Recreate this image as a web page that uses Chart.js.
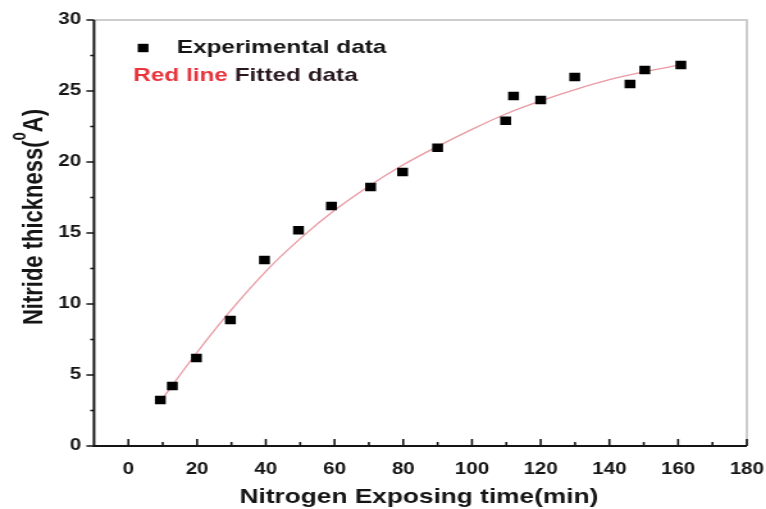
<!DOCTYPE html>
<html>
<head>
<meta charset="utf-8">
<script src="https://cdn.jsdelivr.net/npm/chart.js@4.4.1/dist/chart.umd.min.js"></script>
<style>
  html, body { margin: 0; padding: 0; background: #fff; overflow: hidden; }
  /* the chart is drawn narrow and stretched sideways, like the original figure */
  #wrap { width: 598px; height: 509px; transform: scaleX(1.281); transform-origin: 0 0; }
</style>
</head>
<body>
<div id="wrap"><canvas id="grafico"></canvas></div>
<script>
// experimental points
const expX = [9.3, 12.8, 19.8, 29.7, 39.6, 49.5, 59.1, 70.5, 79.8, 90.0, 109.8, 112.1, 120.0, 129.9, 146.0, 150.3, 160.8];
const expY = [3.24, 4.23, 6.2, 8.87, 13.1, 15.2, 16.9, 18.24, 19.3, 21.0, 22.9, 24.65, 24.37, 25.99, 25.5, 26.48, 26.83];

// fitted curve, read at a few points along the red line
const fitX = [9.5, 20, 30, 40, 50, 60, 70, 80, 90, 100, 110, 120, 130, 140, 150, 160.8];
const fitY = [3.2, 6.6, 9.6, 12.3, 14.6, 16.6, 18.3, 19.8, 21.1, 22.3, 23.4, 24.3, 25.1, 25.8, 26.35, 26.85];

const xTicks = [0, 20, 40, 60, 80, 100, 120, 140, 160, 180];
const xMinor = [10, 30, 50, 70, 90, 110, 130, 150, 170];
const yTicks = [0, 5, 10, 15, 20, 25, 30];
const yMinor = [2.5, 7.5, 12.5, 17.5, 22.5, 27.5];

const FONT = "'Liberation Sans', Arial, sans-serif";
const INK = '#151515';

// axes box: black left/bottom, grey top/right, ticks inward on x and outward on y
const marco = {
  id: 'marco',
  afterDraw(chart) {
    const {ctx, chartArea: a, scales: {x, y}} = chart;
    ctx.save();
    ctx.strokeStyle = '#cdcdcd';
    ctx.lineWidth = 2;
    ctx.beginPath();
    ctx.moveTo(a.left, a.top);
    ctx.lineTo(a.right, a.top);
    ctx.lineTo(a.right, a.bottom);
    ctx.stroke();

    ctx.strokeStyle = INK;
    ctx.beginPath();
    ctx.moveTo(a.left, a.top);
    ctx.lineTo(a.left, a.bottom);
    ctx.lineTo(a.right, a.bottom);
    ctx.stroke();

    ctx.lineWidth = 1.6;
    ctx.beginPath();
    xTicks.forEach(v => { const p = x.getPixelForValue(v); ctx.moveTo(p, a.bottom); ctx.lineTo(p, a.bottom - 7); });
    xMinor.forEach(v => { const p = x.getPixelForValue(v); ctx.moveTo(p, a.bottom); ctx.lineTo(p, a.bottom - 4); });
    yTicks.forEach(v => { const p = y.getPixelForValue(v); ctx.moveTo(a.left, p); ctx.lineTo(a.left - 6, p); });
    yMinor.forEach(v => { const p = y.getPixelForValue(v); ctx.moveTo(a.left, p); ctx.lineTo(a.left - 3, p); });
    ctx.stroke();

    // axis titles
    ctx.fillStyle = INK;
    ctx.font = `bold 20.5px ${FONT}`;
    ctx.textAlign = 'center';
    ctx.textBaseline = 'middle';
    ctx.fillText('Nitrogen Exposing time(min)', 327, 497);

    ctx.translate(27, 217);
    ctx.rotate(-Math.PI / 2);
    const t1 = 'Nitride thickness(', t2 = 'A)';
    ctx.font = `bold 22px ${FONT}`;
    const w1 = ctx.measureText(t1).width, w2 = ctx.measureText(t2).width;
    ctx.font = `bold 15px ${FONT}`;
    const ws = ctx.measureText('0').width;
    let px = -(w1 + ws + w2) / 2;
    ctx.textAlign = 'left';
    ctx.font = `bold 22px ${FONT}`;
    ctx.fillText(t1, px, 0);
    px += w1;
    ctx.font = `bold 15px ${FONT}`;
    ctx.fillText('0', px, -11);
    px += ws;
    ctx.font = `bold 22px ${FONT}`;
    ctx.fillText(t2, px, 0);
    ctx.restore();
  }
};

// two-line legend, the second line in two colours
const leyenda = {
  id: 'leyenda',
  afterDraw(chart) {
    const ctx = chart.ctx;
    ctx.save();
    ctx.fillStyle = '#000';
    ctx.fillRect(111.7 - 4.2, 48 - 4.2, 8.4, 8.4);
    ctx.font = `bold 19px ${FONT}`;
    ctx.textBaseline = 'middle';
    ctx.textAlign = 'left';
    ctx.fillStyle = INK;
    ctx.fillText('Experimental data', 138, 48);
    ctx.fillStyle = '#e8343c';
    ctx.fillText('Red line ', 104, 76);
    const w = ctx.measureText('Red line ').width;
    ctx.fillStyle = '#2a1820';
    ctx.fillText('Fitted data', 104 + w, 76);
    ctx.restore();
  }
};

new Chart(document.getElementById('grafico'), {
  data: {
    datasets: [
      {
        type: 'scatter',
        label: 'Experimental data',
        data: expX.map((v, i) => ({x: v, y: expY[i]})),
        pointStyle: 'rect',
        pointRadius: 6,
        pointBorderWidth: 0,
        backgroundColor: '#000',
        borderColor: '#000',
        order: 0
      },
      {
        type: 'line',
        label: 'Fitted data',
        data: fitX.map((v, i) => ({x: v, y: fitY[i]})),
        borderColor: '#e89aa3',
        borderWidth: 1.3,
        pointRadius: 0,
        fill: false,
        cubicInterpolationMode: 'monotone',
        order: 1
      }
    ]
  },
  options: {
    responsive: true,
    maintainAspectRatio: false,
    animation: false,
    events: [],
    layout: { padding: { top: 20, right: 15, left: 0, bottom: 0 } },
    plugins: { legend: { display: false }, tooltip: { enabled: false } },
    scales: {
      x: {
        type: 'linear',
        min: -10,
        max: 180,
        grid: { display: false, drawTicks: false },
        border: { display: false },
        afterBuildTicks: s => { s.ticks = xTicks.map(v => ({value: v})); },
        afterFit: s => { s.height = 63; s.paddingLeft = 0; s.paddingRight = 0; },
        ticks: { color: INK, padding: 14, maxRotation: 0, font: { family: FONT, size: 16, weight: 'bold' } }
      },
      y: {
        min: 0,
        max: 30,
        grid: { display: false, drawTicks: false },
        border: { display: false },
        afterBuildTicks: s => { s.ticks = yTicks.map(v => ({value: v})); },
        afterFit: s => { s.width = 73.4; s.paddingTop = 0; s.paddingBottom = 0; },
        ticks: { color: INK, padding: 10, font: { family: FONT, size: 16, weight: 'bold' } }
      }
    }
  },
  plugins: [marco, leyenda]
});
</script>
</body>
</html>
